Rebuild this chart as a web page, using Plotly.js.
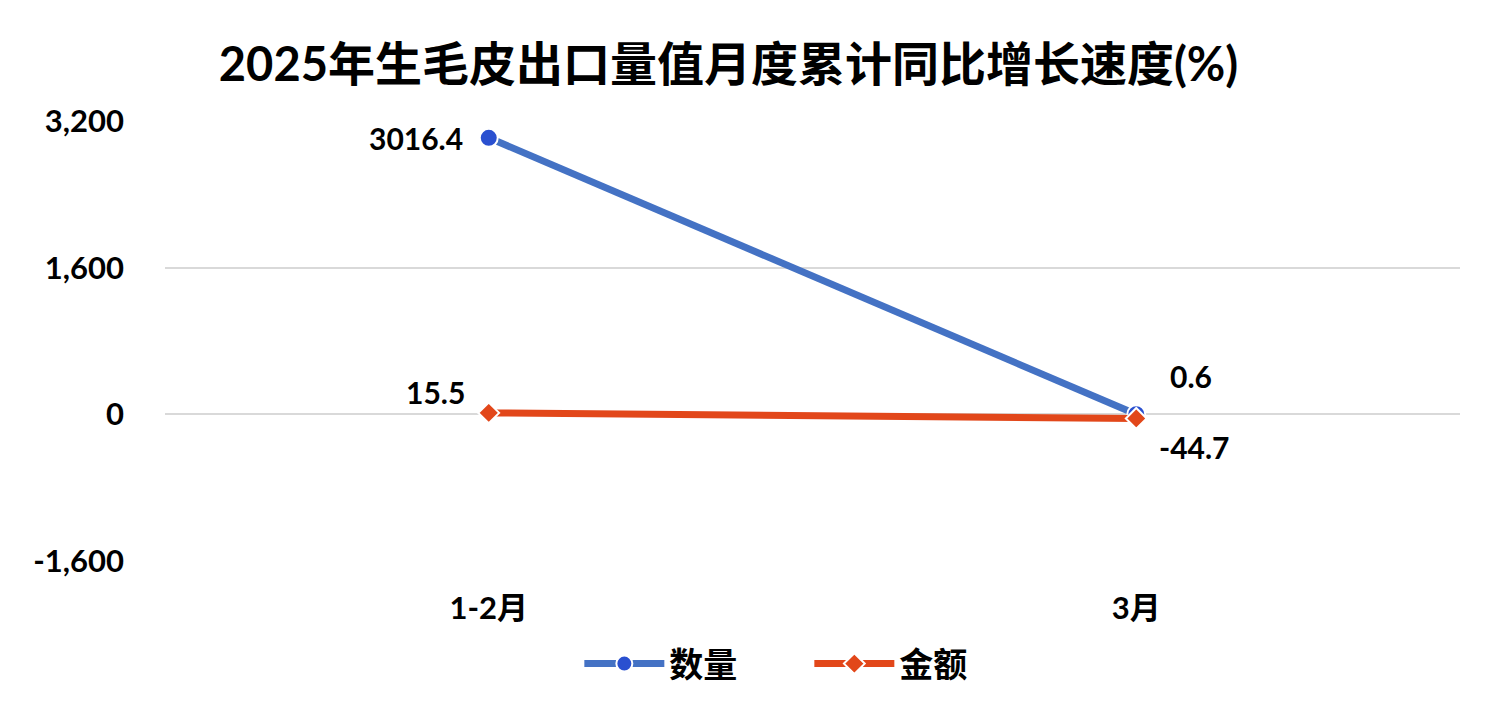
<!DOCTYPE html>
<html><head><meta charset="utf-8">
<script src="https://cdn.plot.ly/plotly-3.0.1.min.js"></script>
<style>html,body{margin:0;padding:0;background:#fff}#c{width:1496px;height:714px}</style>
</head><body><div id="c"></div>
<script>
const categories = ['1-2月', '3月'];
const quantity = [3016.4, 0.6];
const amount = [15.5, -44.7];
const seriesNames = ['数量', '金额'];
const yTicks = [-1600, 0, 1600, 3200];
const yTickText = ['-1,600', '0', '1,600', '3,200'];

const FONT = 'Lato, "Noto Sans CJK SC", "Noto Sans", sans-serif';
const blueLine = '#4472C4', blueMarker = '#2A50D0';
const orange = '#E2471A';

const traces = [
  {x: categories, y: quantity, name: seriesNames[0], type: 'scatter', mode: 'lines+markers',
   line: {color: blueLine, width: 7}, marker: {symbol: 'circle', size: 18, color: blueMarker, line: {color: '#fff', width: 2}}},
  {x: categories, y: amount, name: seriesNames[1], type: 'scatter', mode: 'lines+markers',
   line: {color: orange, width: 7}, marker: {symbol: 'diamond', size: 16, color: orange, line: {color: '#fff', width: 2}}}
];

const labelFont = {family: FONT, size: 30, color: '#000', weight: 'bold'};
const annotations = [
  {x: categories[0], y: quantity[0], text: String(quantity[0]), xanchor: 'right', yanchor: 'middle', xshift: -24, yshift: 0},
  {x: categories[1], y: quantity[1], text: String(quantity[1]), xanchor: 'center', yanchor: 'middle', xshift: 55, yshift: 38},
  {x: categories[0], y: amount[0], text: String(amount[0]), xanchor: 'center', yanchor: 'middle', xshift: -53, yshift: 21},
  {x: categories[1], y: amount[1], text: String(amount[1]), xanchor: 'center', yanchor: 'middle', xshift: 58, yshift: -29}
].map(a => Object.assign({xref: 'x', yref: 'y', showarrow: false, font: labelFont}, a));

const layout = {
  width: 1496, height: 714,
  margin: {l: 165, r: 36, t: 121, b: 153},
  paper_bgcolor: '#fff', plot_bgcolor: '#fff',
  title: {text: '2025年生毛皮出口量值月度累计同比增长速度(%)', x: 0.487, xref: 'container', xanchor: 'center', y: 0.91, yref: 'container', yanchor: 'middle',
          font: {family: FONT, size: 47, color: '#000', weight: 'bold'}},
  xaxis: {type: 'category', range: [-0.5, 1.5], showgrid: false, zeroline: false, showline: false, ticks: '',
          tickfont: {family: FONT, size: 31, color: '#000', weight: 'bold'}, ticklabelstandoff: 26, fixedrange: true},
  yaxis: {range: [-1600, 3200], tickvals: yTicks, ticktext: yTickText, showgrid: true, gridcolor: '#D9D9D9', gridwidth: 2,
          zeroline: true, zerolinecolor: '#D9D9D9', zerolinewidth: 2, showline: false, ticks: '',
          tickfont: {family: FONT, size: 31, color: '#000', weight: 'bold'}, ticklabelstandoff: 40, fixedrange: true},
  legend: {orientation: 'h', x: 0.541, xref: 'container', xanchor: 'center', y: 0.07, yref: 'container', yanchor: 'middle',
           font: {family: FONT, size: 34, color: '#000', weight: 'bold'}, itemwidth: 80, tracegroupgap: 0, entrywidth: 135},
  annotations: annotations,
  showlegend: true
};

Plotly.newPlot('c', traces, layout, {displayModeBar: false, staticPlot: true});
</script></body></html>
